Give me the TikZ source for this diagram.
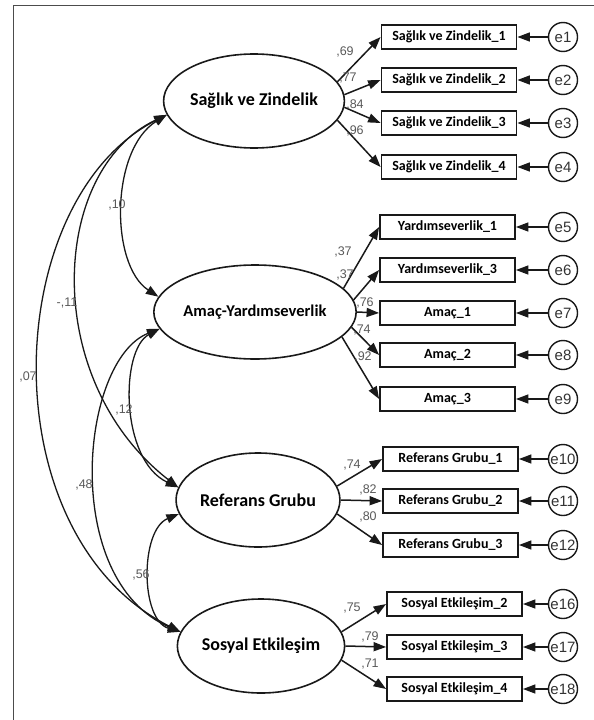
\documentclass[tikz,border=0pt]{standalone}
\usepackage{fontspec}
\setmainfont{Carlito}
\newfontfamily\numfont{Liberation Sans}
\usetikzlibrary{arrows.meta}
\usetikzlibrary{shapes.geometric}

\begin{document}
\begin{tikzpicture}[x=1pt,y=-1pt,
    >={Triangle[length=12.5pt,width=9pt]},
    latent/.style={ellipse,draw=black!90,line width=1.6pt,minimum width=152pt,minimum height=94pt,inner sep=0pt,font=\bfseries\fontsize{18}{20}\selectfont},
    indicator/.style={rectangle,draw=black!90,line width=1.8pt,minimum width=135pt,minimum height=24pt,inner sep=0pt,font=\bfseries\fontsize{14}{16}\selectfont},
    err/.style={circle,draw=black!90,line width=1.4pt,minimum size=29pt,inner sep=0pt,font=\numfont\fontsize{15}{17}\selectfont,text=black!80},
    coef/.style={font=\numfont\fontsize{12.5}{14}\selectfont,text=black!65,inner sep=0pt},
    load/.style={->,draw=black!90,line width=1.5pt},
    cov/.style={<->,draw=black!90,line width=1.3pt}]
    \useasboundingbox (0,0) rectangle (594,720);
    \draw[black!70,line width=0.8pt] (13,720) -- (13,5) -- (594,5);

    % latent factors
    \node[latent] (saglik) at (254,101) {Sağlık ve Zindelik};
    \node[latent,minimum width=156pt,font=\bfseries\fontsize{16.5}{18}\selectfont] (amac) at (255,312) {Amaç-Yardımseverlik};
    \node[latent] (referans) at (258,500) {Referans Grubu};
    \node[latent] (sosyal) at (261,646) {Sosyal Etkileşim};

    % observed items and their errors
    \foreach \name/\txt/\xx/\yy/\e in {
        sz1/Sağlık ve Zindelik\_1/449/37/e1, sz2/Sağlık ve Zindelik\_2/449/80/e2,
        sz3/Sağlık ve Zindelik\_3/449/123/e3, sz4/Sağlık ve Zindelik\_4/449/167/e4,
        y1/Yardımseverlik\_1/447.5/227/e5, y3/Yardımseverlik\_3/447.5/270/e6,
        a1/Amaç\_1/447.5/313/e7, a2/Amaç\_2/447.5/355/e8, a3/Amaç\_3/447.5/399/e9,
        rg1/Referans Grubu\_1/450.5/459/e10, rg2/Referans Grubu\_2/450.5/501/e11,
        rg3/Referans Grubu\_3/450.5/545/e12,
        se2/Sosyal Etkileşim\_2/454.5/604/e16, se3/Sosyal Etkileşim\_3/454.5/647/e17,
        se4/Sosyal Etkileşim\_4/454.5/689/e18}{
      \node[indicator] (\name) at (\xx,\yy) {\txt};
      \node[err] (e\name) at (563,\yy) {\e};
      \draw[load] (e\name) -- (\name.east);
    }

    % loadings
    \foreach \name/\ang in {sz1/13, sz2/4, sz3/-4, sz4/-13}
      \draw[load] (saglik.\ang) -- (\name.west);
    \foreach \name/\ang in {y1/15, y3/7, a1/0, a2/-9, a3/-16}
      \draw[load] (amac.\ang) -- (\name.west);
    \foreach \name/\ang in {rg1/10, rg2/0, rg3/-10}
      \draw[load] (referans.\ang) -- (\name.west);
    \foreach \name/\ang in {se2/10, se3/0, se4/-10}
      \draw[load] (sosyal.\ang) -- (\name.west);

    \node[coef] (l1) at (345,52) {,69};
    \node[coef] (l2) at (348,78) {,77};
    \node[coef] (l3) at (355,105) {,84};
    \node[coef] (l4) at (355,131) {,96};
    \node[coef] (l5) at (343,252) {,37};
    \node[coef] (l6) at (345,275) {,37};
    \node[coef] (l7) at (365,303) {,76};
    \node[coef] (l8) at (362,330) {,74};
    \node[coef] (l9) at (363,357) {,92};
    \node[coef] (l10) at (352,465) {,74};
    \node[coef] (l11) at (368,490) {,82};
    \node[coef] (l12) at (368,517) {,80};
    \node[coef] (l13) at (352,608) {,75};
    \node[coef] (l14) at (370,637) {,79};
    \node[coef] (l15) at (370,664) {,71};

    % covariances
    \draw[cov] (saglik.189) .. controls (110,150) and (110,265) .. (amac.171);
    \draw[cov] (saglik.189) .. controls (50,170) and (40,380) .. (referans.171);
    \draw[cov] (saglik.189) .. controls (0,200) and (-12,535) .. (sosyal.170);
    \draw[cov] (amac.190) .. controls (120,350) and (120,460) .. (referans.171);
    \draw[cov] (amac.190) .. controls (80,360) and (60,580) .. (sosyal.170);
    \draw[cov] (referans.190) .. controls (140,530) and (140,620) .. (sosyal.170);

    \node[coef] (k1) at (117,205) {,10};
    \node[coef] (k2) at (67,303) {-,11};
    \node[coef] (k3) at (28,377) {,07};
    \node[coef] (k4) at (124,410) {,12};
    \node[coef] (k5) at (84,485) {,48};
    \node[coef] (k6) at (141,575) {,56};
\end{tikzpicture}
\end{document}
